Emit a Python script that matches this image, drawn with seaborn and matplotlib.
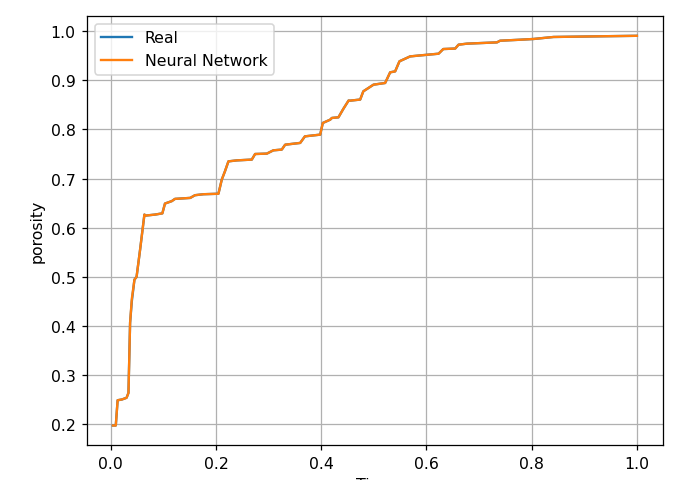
import matplotlib
matplotlib.use("Agg")
import matplotlib.pyplot as plt
import seaborn as sns
import pandas as pd

# ---- data ----
x_vals = [0.004, 0.0095, 0.013, 0.021, 0.030, 0.0336, 0.0367, 0.040, 0.045, 0.049,
          0.0557, 0.0639, 0.0665, 0.084, 0.098, 0.103, 0.116, 0.122, 0.151, 0.160,
          0.176, 0.2046, 0.211, 0.217, 0.2236, 0.2395, 0.268, 0.2743, 0.2966, 0.309,
          0.325, 0.3314, 0.360, 0.369, 0.398, 0.403, 0.417, 0.4202, 0.4327, 0.442,
          0.452, 0.455, 0.474, 0.480, 0.4994, 0.5215, 0.531, 0.5405, 0.5487, 0.569,
          0.588, 0.623, 0.632, 0.6546, 0.661, 0.677, 0.734, 0.740, 0.778, 0.8034,
          0.8415, 0.930, 1.0]
real_vals = [0.1965, 0.1965, 0.248, 0.2495, 0.253, 0.263, 0.406, 0.450, 0.494, 0.4995,
             0.555, 0.6265, 0.6245, 0.6265, 0.629, 0.649, 0.654, 0.6585, 0.6605, 0.666,
             0.668, 0.669, 0.698, 0.7147, 0.735, 0.737, 0.7386, 0.750, 0.7508, 0.7575,
             0.759, 0.769, 0.7726, 0.786, 0.7895, 0.8133, 0.820, 0.8235, 0.8248, 0.842,
             0.859, 0.8588, 0.861, 0.8778, 0.8914, 0.8948, 0.9165, 0.9185, 0.939, 0.949,
             0.951, 0.9545, 0.964, 0.965, 0.9729, 0.975, 0.9776, 0.981, 0.983, 0.9845,
             0.9886, 0.990, 0.991]
nn_vals = [0.1965, 0.1965, 0.248, 0.2495, 0.253, 0.263, 0.406, 0.455, 0.494, 0.4995,
           0.555, 0.6265, 0.6245, 0.6265, 0.629, 0.649, 0.654, 0.6585, 0.6605, 0.666,
           0.668, 0.669, 0.698, 0.7147, 0.735, 0.737, 0.7386, 0.750, 0.7508, 0.7575,
           0.759, 0.769, 0.7726, 0.786, 0.7895, 0.8133, 0.820, 0.8235, 0.8248, 0.842,
           0.859, 0.8588, 0.861, 0.8778, 0.8914, 0.8948, 0.9165, 0.9185, 0.939, 0.949,
           0.951, 0.9545, 0.964, 0.965, 0.9729, 0.975, 0.9776, 0.981, 0.983, 0.9845,
           0.9886, 0.990, 0.991]
series_names = ["Real", "Neural Network"]
x_label = "Time"
y_label = "porosity"

df_real = pd.DataFrame({"x": x_vals, "y": real_vals})
df_nn = pd.DataFrame({"x": x_vals, "y": nn_vals})

DPI = 113
fig = plt.figure(figsize=(698 / DPI, 481 / DPI), dpi=DPI)
ax = fig.add_axes([0.1242, 0.0728, 0.8258, 0.8912])

sns.lineplot(data=df_real, x="x", y="y", ax=ax, color="#1f77b4",
             label=series_names[0], sort=False, estimator=None, linewidth=1.5)
sns.lineplot(data=df_nn, x="x", y="y", ax=ax, color="#ff7f0e",
             label=series_names[1], sort=False, estimator=None, linewidth=1.5)

ax.set_xticks([0.0, 0.2, 0.4, 0.6, 0.8, 1.0])
ax.set_yticks([0.2, 0.3, 0.4, 0.5, 0.6, 0.7, 0.8, 0.9, 1.0])
ax.grid(True)
ax.set_xlabel(x_label)
ax.set_ylabel(y_label)
ax.legend(loc="upper left")

fig.savefig("out.png", dpi=DPI)
